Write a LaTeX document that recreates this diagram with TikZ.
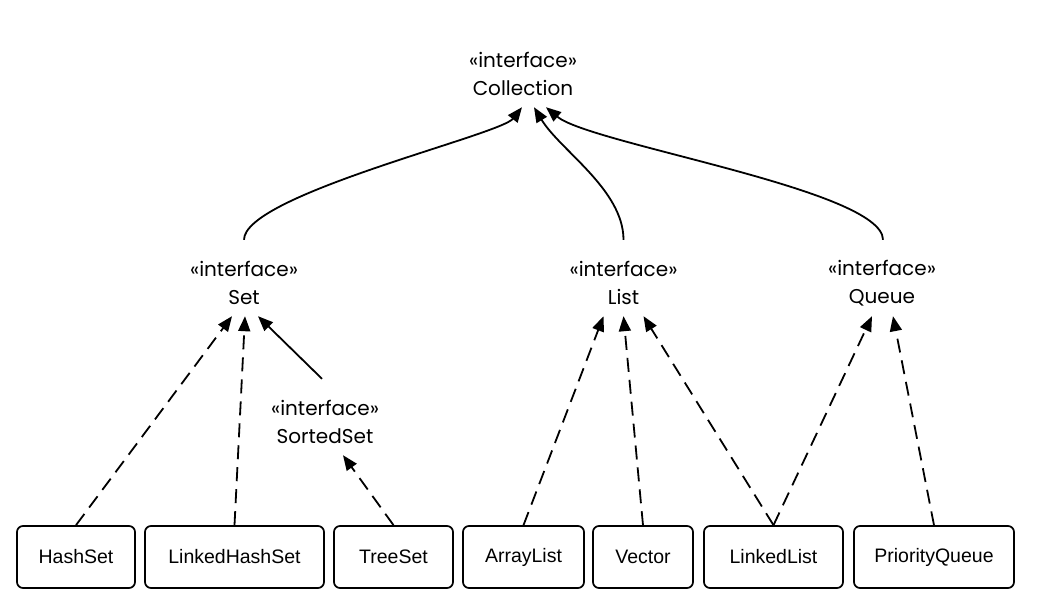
\documentclass[tikz,border=0pt]{standalone}
\usepackage{fontspec}
\setmainfont{Liberation Sans}
\newfontfamily\ifacefont{Poppins}
\usepackage{tikz}
\usetikzlibrary{arrows.meta}

\begin{document}
\begin{tikzpicture}[x=1pt,y=-1pt,
  iface/.style={align=center,inner sep=0pt,minimum height=66pt,font=\ifacefont\fontsize{20}{28}\selectfont},
  cls/.style={draw,rounded corners=6pt,line width=1.7pt,minimum height=62pt,inner sep=0pt,font=\fontsize{19.5}{23}\selectfont},
  ext/.style={line width=1.8pt,-{Triangle[length=15pt,width=12pt]}},
  impl/.style={ext,dash pattern=on 14pt off 8pt}]
\useasboundingbox (0,0) rectangle (1050,606);

\node[iface] (coll) at (523,74) {«interface»\\Collection};
\node[iface] (set) at (244,283) {«interface»\\Set};
\node[iface] (list) at (623.5,283) {«interface»\\List};
\node[iface] (queue) at (882,283) {«interface»\\Queue};
\node[iface] (sset) at (325,422) {«interface»\\SortedSet};

\node[cls,minimum width=118pt] (hash) at (76,557) {HashSet};
\node[cls,minimum width=179pt] (lhash) at (234.5,557) {LinkedHashSet};
\node[cls,minimum width=119pt] (tree) at (393.5,557) {TreeSet};
\node[cls,minimum width=121pt] (alist) at (523.5,557) {ArrayList};
\node[cls,minimum width=100pt] (vec) at (643,557) {Vector};
\node[cls,minimum width=139pt] (llist) at (773.5,557) {LinkedList};
\node[cls,minimum width=160pt] (pq) at (934,557) {PriorityQueue};

\draw[ext] ([yshift=10pt]set.north) .. controls +(0,-45) and +(-22,28) .. ([xshift=-1pt]coll.south);
\draw[ext] ([yshift=10pt]list.north) .. controls +(0,-50) and +(26,43) .. ([xshift=11pt]coll.south);
\draw[ext] ([xshift=1pt,yshift=10pt]queue.north) .. controls +(0,-50) and +(44,37) .. ([xshift=23pt]coll.south);

\draw[impl] (hash.north) -- ([xshift=-12pt]set.south);
\draw[impl] (lhash.north) -- ([xshift=1pt]set.south);
\draw[ext] ([xshift=-3pt,yshift=10pt]sset.north) -- ([xshift=14pt]set.south);
\draw[impl] (tree.north) -- ([xshift=18pt]sset.south);

\draw[impl] (alist.north) -- ([xshift=-20pt]list.south);
\draw[impl] (vec.north) -- (list.south);
\draw[impl] (llist.north) -- ([xshift=20pt]list.south);
\draw[impl] (llist.north) -- ([xshift=-10pt]queue.south);
\draw[impl] (pq.north) -- ([xshift=11pt]queue.south);
\end{tikzpicture}
\end{document}
